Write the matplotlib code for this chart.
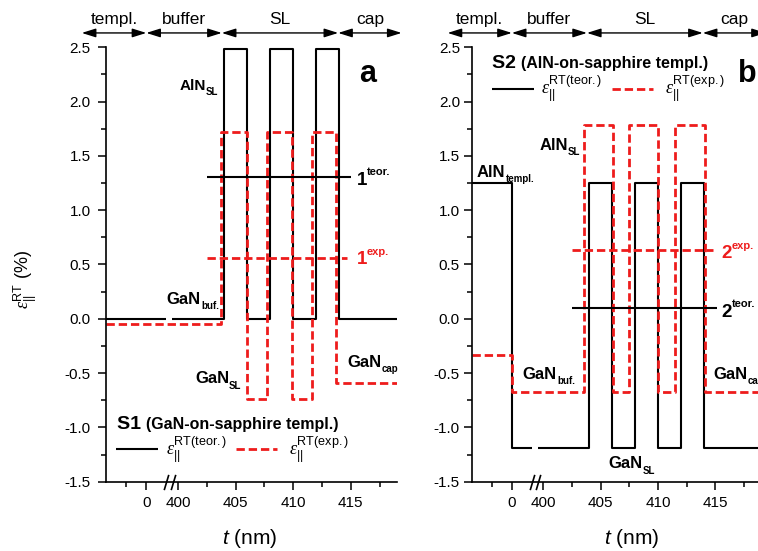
import numpy as np
import matplotlib
matplotlib.use("Agg")
import matplotlib.pyplot as plt
from matplotlib.ticker import FixedLocator, FuncFormatter
from matplotlib.transforms import ScaledTranslation

plt.rcParams.update({
    'font.family': ['Liberation Sans', 'DejaVu Sans'],
    'mathtext.fontset': 'custom',
    'mathtext.rm': 'Liberation Sans',
    'mathtext.bf': 'Liberation Sans:bold',
    'mathtext.it': 'Liberation Serif:italic',
    'mathtext.sf': 'Liberation Sans:italic',
    'axes.unicode_minus': False,
})

RED = '#ee1c1c'

# ---------------------------------------------------------------- data
# Below the axis break x is the template coordinate (0 = template top),
# above the break x is the thickness t in nm.
layers = ['templ.', 'buffer', 'SL', 'cap']
layer_edges = [-3.2, 0, 403.8, 413.9, 419.4]

# S1 : GaN-on-sapphire template
s1_teor_templ_edges = [-2, 1.0]
s1_teor_templ_levels = [0.0]
s1_teor_edges = [399.5, 404, 406, 408, 410, 412, 414, 419]
s1_teor_levels = [0.0, 2.48, 0.0, 2.48, 0.0, 2.48, 0.0]
s1_exp_edges = [-2, 403.7, 406.0, 407.75, 409.85, 411.65, 413.75, 419]
s1_exp_levels = [-0.05, 1.72, -0.74, 1.72, -0.74, 1.72, -0.59]
s1_avg_teor, s1_avg_teor_span = 1.31, [402.5, 415.0]
s1_avg_exp, s1_avg_exp_span = 0.56, [402.5, 414.7]

# S2 : AlN-on-sapphire template
s2_teor_templ_edges = [-2, 0, 1.0]
s2_teor_templ_levels = [1.25, -1.19]
s2_teor_edges = [399.5, 404, 406, 408, 410, 412, 414, 419]
s2_teor_levels = [-1.19, 1.25, -1.19, 1.25, -1.19, 1.25, -1.19]
s2_exp_edges = [-2, 0, 403.55, 406.05, 407.5, 410.0, 411.5, 414.1, 419]
s2_exp_levels = [-0.33, -0.67, 1.78, -0.67, 1.78, -0.67, 1.78, -0.67]
s2_avg_teor, s2_avg_teor_span = 0.10, [402.5, 415.1]
s2_avg_exp, s2_avg_exp_span = 0.63, [402.5, 414.8]

x_major = [0, 400, 405, 410, 415]
x_minor = [-1, 402.5, 407.5, 412.5, 417.5]
y_major = [-1.5, -1.0, -0.5, 0.0, 0.5, 1.0, 1.5, 2.0, 2.5]
y_minor = [-1.25, -0.75, -0.25, 0.25, 0.75, 1.25, 1.75, 2.25]
x_breaks = [1.0, 399.55]

# ------------------------------------------------ broken x-axis scale
U0, K = 397.25, 1.75          # template units -> nm-like axis units
B1, B2 = 1.2, 399.4           # hidden interval between the two segments
UB1 = U0 + K * B1


def fwd(x):
    x = np.asarray(x, dtype=float)
    mid = UB1 + (x - B1) * (B2 - UB1) / (B2 - B1)
    return np.where(x <= B1, U0 + K * x, np.where(x >= B2, x, mid))


def inv(u):
    u = np.asarray(u, dtype=float)
    mid = B1 + (u - UB1) * (B2 - B1) / (B2 - UB1)
    return np.where(u <= UB1, (u - U0) / K, np.where(u >= B2, u, mid))


def steps(edges, levels):
    x = np.repeat(np.asarray(edges, float), 2)[1:-1]
    y = np.repeat(np.asarray(levels, float), 2)
    return x, y


fig = plt.figure(figsize=(7.58, 5.51), dpi=100)
ax_a = fig.add_axes([0.1398, 0.1258, 0.3839, 0.7884])
ax_b = fig.add_axes([0.6223, 0.1258, 0.3820, 0.7884])
renderer = fig.canvas.get_renderer()

BLK = dict(color='k', lw=1.5, solid_capstyle='butt')
DSH = dict(color=RED, lw=2.0, ls=(0, (3.0, 1.4)))


def chain(ax, x, y, parts, ha='left', color='k', transform=None):
    """Bold text pieces written one after another (base, sub/superscript)."""
    transform = transform or ax.transData
    arts, widths = [], []
    for s, size, dy in parts:
        t = ax.text(x, y, s, fontsize=size, fontweight='bold', color=color,
                    ha='left', va='baseline', transform=transform)
        arts.append((t, dy))
        widths.append(t.get_window_extent(renderer).width / fig.dpi)
    off = -sum(widths) if ha == 'right' else 0.0
    for (t, dy), w in zip(arts, widths):
        t.set_transform(transform + ScaledTranslation(off, dy / 72,
                                                      fig.dpi_scale_trans))
        off += w


def setup(ax, pad):
    ax.set_xscale('function', functions=(fwd, inv))
    ax.set_xlim(-2, 419)
    ax.set_ylim(-1.5, 2.5)
    for s in ('top', 'right'):
        ax.spines[s].set_visible(False)
    for s in ('left', 'bottom'):
        ax.spines[s].set_linewidth(1.2)
    ax.xaxis.set_major_locator(FixedLocator(x_major))
    ax.xaxis.set_minor_locator(FixedLocator(x_minor))
    ax.xaxis.set_major_formatter(FuncFormatter(lambda v, p: f"{v:.0f}"))
    ax.yaxis.set_major_locator(FixedLocator(y_major))
    ax.yaxis.set_minor_locator(FixedLocator(y_minor))
    ax.yaxis.set_major_formatter(FuncFormatter(lambda v, p: f"{v:.1f}"))
    ax.tick_params(which='major', direction='out', length=6, width=1.1,
                   labelsize=11)
    ax.tick_params(which='minor', direction='out', length=3.5, width=1.1)
    ax.tick_params(axis='y', which='major', pad=pad)
    ax.tick_params(axis='x', which='major', pad=4)
    # axis break marks
    ax.plot(x_breaks, [-1.5, -1.5], ls='none',
            marker=[(-0.3, -1), (0.3, 1)], ms=11, mec='k', mew=1.2,
            fillstyle='none', clip_on=False, zorder=5)
    # layer headers
    tr = ax.get_xaxis_transform()
    for i, name in enumerate(layers):
        x0, x1 = layer_edges[i], layer_edges[i + 1]
        ax.annotate('', xy=(x1, 1.033), xytext=(x0, 1.033), xycoords=tr,
                    annotation_clip=False,
                    arrowprops=dict(arrowstyle='<|-|>,head_length=0.7,'
                                    'head_width=0.22', color='k', lw=1.0,
                                    shrinkA=0, shrinkB=0, mutation_scale=12))
        xm = float(inv((fwd(x0) + fwd(x1)) / 2))
        ax.text(xm, 1.0525, name, transform=tr, ha='center', va='baseline',
                fontsize=12.5)
    ax.set_xlabel(r'$\mathsf{t}$ (nm)', fontsize=15)


def legend(ax, x0, y, title_parts, tx):
    chain(ax, x0, y[0], title_parts, transform=ax.transAxes)
    ax.plot([tx[0], tx[1]], [y[1], y[1]], transform=ax.transAxes, **BLK)
    ax.text(tx[2], y[2], r'$\varepsilon_{\mathrm{||}}^{\mathrm{RT(teor.)}}$',
            transform=ax.transAxes, fontsize=13, va='center')
    ax.plot([tx[3], tx[4]], [y[1], y[1]], transform=ax.transAxes, **DSH)
    ax.text(tx[5], y[2], r'$\varepsilon_{\mathrm{||}}^{\mathrm{RT(exp.)}}$',
            transform=ax.transAxes, fontsize=13, va='center')


# ------------------------------------------------------------ panel a
ax = ax_a
setup(ax, pad=5)
ax.plot(*steps(s1_teor_templ_edges, s1_teor_templ_levels), **BLK)
ax.plot(*steps(s1_teor_edges, s1_teor_levels), **BLK)
ax.plot(*steps(s1_exp_edges, s1_exp_levels), **DSH)
ax.plot(s1_avg_teor_span, [s1_avg_teor] * 2, **BLK)
ax.plot(s1_avg_exp_span, [s1_avg_exp] * 2, **DSH)

chain(ax, 403.5, 2.11, [('AlN', 11, 0), ('SL', 7, -4)], ha='right')
chain(ax, 415.5, 1.23, [('1', 13.5, 0), ('teor.', 8, 7)])
chain(ax, 415.5, 0.50, [('1', 13.5, 0), ('exp.', 8, 7)], color=RED)
chain(ax, 403.55, 0.14, [('GaN', 12, 0), ('buf.', 7, -4)], ha='right')
chain(ax, 405.5, -0.595, [('GaN', 12, 0), ('SL', 7, -4)], ha='right')
chain(ax, 414.7, -0.44, [('GaN', 12, 0), ('cap', 7, -4)])
ax.text(415.7, 2.18, 'a', fontsize=22, fontweight='bold', va='baseline')
legend(ax, 0.038, [0.1206, 0.0753, 0.073],
       [('S1 ', 14, 0), ('(GaN-on-sapphire templ.)', 11.5, 0)],
       [0.034, 0.179, 0.205, 0.447, 0.588, 0.628])
ax.xaxis.set_label_coords(0.495, -0.105)

# ------------------------------------------------------------ panel b
ax = ax_b
setup(ax, pad=2.5)
ax.plot(*steps(s2_teor_templ_edges, s2_teor_templ_levels), **BLK)
ax.plot(*steps(s2_teor_edges, s2_teor_levels), **BLK)
ax.plot(*steps(s2_exp_edges, s2_exp_levels), **DSH)
ax.plot(s2_avg_teor_span, [s2_avg_teor] * 2, **BLK)
ax.plot(s2_avg_exp_span, [s2_avg_exp] * 2, **DSH)

chain(ax, 403.2, 1.555, [('AlN', 12, 0), ('SL', 7, -4)], ha='right')
chain(ax, -1.74, 1.31, [('AlN', 12, 0), ('templ.', 7, -4)])
chain(ax, 415.55, 0.557, [('2', 13.5, 0), ('exp.', 8, 7)], color=RED)
chain(ax, 415.55, 0.018, [('2', 13.5, 0), ('teor.', 8, 7)])
chain(ax, 402.75, -0.55, [('GaN', 12, 0), ('buf.', 7, -4)], ha='right')
chain(ax, 405.7, -1.375, [('GaN', 12, 0), ('SL', 7, -4)])
chain(ax, 414.8, -0.55, [('GaN', 12, 0), ('cap', 7, -4)])
ax.text(416.95, 2.18, 'b', fontsize=22, fontweight='bold', va='baseline')
legend(ax, 0.069, [0.9517, 0.903, 0.905],
       [('S2 ', 14, 0), ('(AlN-on-sapphire templ.)', 11.5, 0)],
       [0.069, 0.215, 0.24, 0.484, 0.627, 0.668])
ax.xaxis.set_label_coords(0.553, -0.105)

fig.text(0.033, 0.492, r'$\varepsilon_{\mathrm{||}}^{\mathrm{RT}}$ (%)',
         rotation=90, ha='center', va='center', fontsize=13)

fig.savefig('out.png', dpi=100)
